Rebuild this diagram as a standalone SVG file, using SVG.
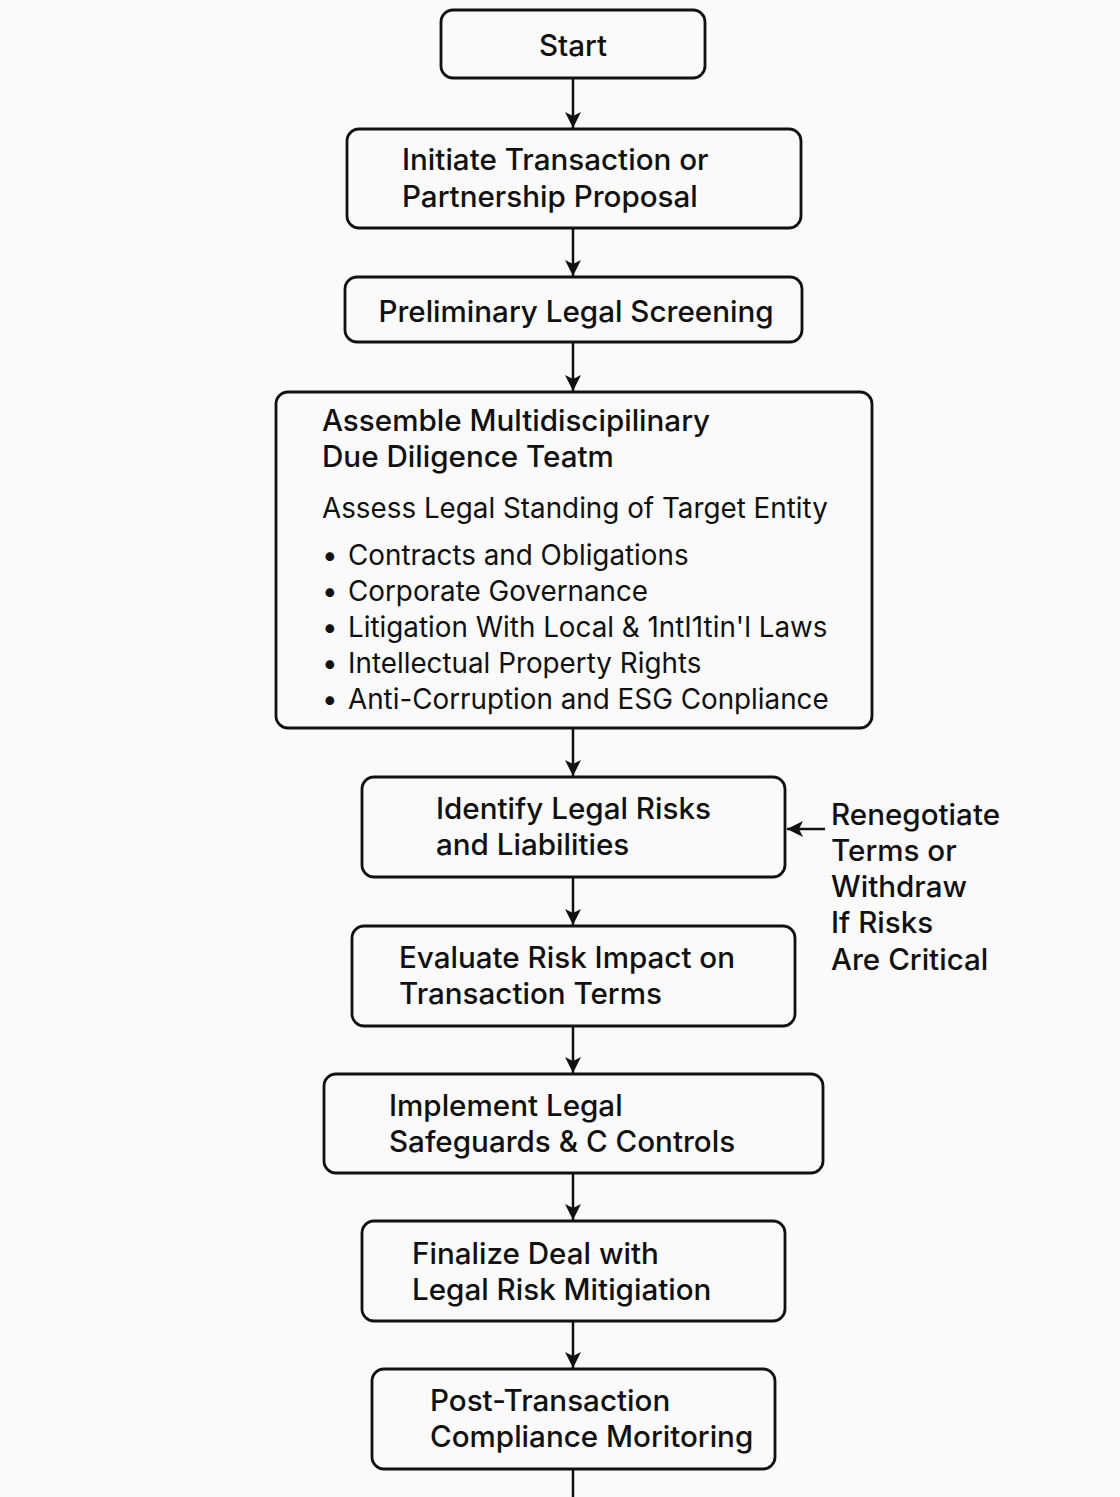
<svg xmlns="http://www.w3.org/2000/svg" width="1120" height="1497" viewBox="0 0 1120 1497">
<defs>
<style>
.box{fill:#fafafa;stroke:#111;stroke-width:2.8}
.t{font-family:Inter,"Noto Sans","Liberation Sans",sans-serif;font-size:29.6px;font-weight:500;fill:#111}
.r{font-family:Inter,"Noto Sans","Liberation Sans",sans-serif;font-size:27.8px;font-weight:400;fill:#111}
.c{stroke:#111;stroke-width:2.5;fill:none}
</style>
<marker id="a" viewBox="0 0 12 12" refX="12" refY="6" markerWidth="16" markerHeight="16" markerUnits="userSpaceOnUse" orient="auto">
<path d="M0,0 L12,6 L0,12 L3,6 Z" fill="#111"/>
</marker>
</defs>
<rect width="1120" height="1497" fill="#fafafa"/>
<g id="connectors">
<line class="c" x1="573" y1="78" x2="573" y2="128" marker-end="url(#a)"/>
<line class="c" x1="573" y1="228" x2="573" y2="276" marker-end="url(#a)"/>
<line class="c" x1="573" y1="342" x2="573" y2="391" marker-end="url(#a)"/>
<line class="c" x1="573" y1="728" x2="573" y2="776" marker-end="url(#a)"/>
<line class="c" x1="573" y1="877" x2="573" y2="925" marker-end="url(#a)"/>
<line class="c" x1="573" y1="1026" x2="573" y2="1073" marker-end="url(#a)"/>
<line class="c" x1="573" y1="1173" x2="573" y2="1220" marker-end="url(#a)"/>
<line class="c" x1="573" y1="1321" x2="573" y2="1368" marker-end="url(#a)"/>
<line class="c" x1="573" y1="1469" x2="573" y2="1497"/>
<line class="c" x1="825" y1="829" x2="787" y2="829" marker-end="url(#a)"/>
</g>
<g id="start">
<rect class="box" x="441" y="10" width="264" height="68" rx="12"/>
<text class="t" x="573" y="56" text-anchor="middle">Start</text>
</g>
<g id="initiate">
<rect class="box" x="347" y="129" width="454" height="99" rx="12"/>
<text class="t" x="402" y="170">Initiate Transaction or</text>
<text class="t" x="402" y="207">Partnership Proposal</text>
</g>
<g id="preliminary">
<rect class="box" x="345" y="277" width="457" height="65" rx="12"/>
<text class="t" x="576" y="322" text-anchor="middle">Preliminary Legal Screening</text>
</g>
<g id="assemble">
<rect class="box" x="276" y="392" width="596" height="336" rx="12"/>
<text class="t" x="322" y="431">Assemble Multidiscipilinary</text>
<text class="t" x="322" y="467">Due Diligence Teatm</text>
<text class="r" x="322" y="518">Assess Legal Standing of Target Entity</text>
<text class="r" x="322" y="565">•</text><text class="r" x="348" y="565">Contracts and Obligations</text>
<text class="r" x="322" y="601">•</text><text class="r" x="348" y="601">Corporate Governance</text>
<text class="r" x="322" y="637">•</text><text class="r" x="348" y="637">Litigation With Local &amp; 1ntI1tin'l Laws</text>
<text class="r" x="322" y="673">•</text><text class="r" x="348" y="673">Intellectual Property Rights</text>
<text class="r" x="322" y="709">•</text><text class="r" x="348" y="709">Anti-Corruption and ESG Conpliance</text>
</g>
<g id="identify">
<rect class="box" x="362" y="777" width="423" height="100" rx="12"/>
<text class="t" x="436" y="819">Identify Legal Risks</text>
<text class="t" x="436" y="855">and Liabilities</text>
</g>
<g id="evaluate">
<rect class="box" x="352" y="926" width="443" height="100" rx="12"/>
<text class="t" x="399" y="968">Evaluate Risk Impact on</text>
<text class="t" x="399" y="1004">Transaction Terms</text>
</g>
<g id="implement">
<rect class="box" x="324" y="1074" width="499" height="99" rx="12"/>
<text class="t" x="389" y="1116">Implement Legal</text>
<text class="t" x="389" y="1152">Safeguards &amp; C Controls</text>
</g>
<g id="finalize">
<rect class="box" x="362" y="1221" width="423" height="100" rx="12"/>
<text class="t" x="412" y="1264">Finalize Deal with</text>
<text class="t" x="412" y="1300">Legal Risk Mitigiation</text>
</g>
<g id="post">
<rect class="box" x="372" y="1369" width="403" height="100" rx="12"/>
<text class="t" x="430" y="1411">Post-Transaction</text>
<text class="t" x="430" y="1447">Compliance Moritoring</text>
</g>
<g id="renegotiate">
<text class="t" x="831" y="825">Renegotiate</text>
<text class="t" x="831" y="861">Terms or</text>
<text class="t" x="831" y="897">Withdraw</text>
<text class="t" x="831" y="933">If Risks</text>
<text class="t" x="831" y="970">Are Critical</text>
</g>
</svg>
